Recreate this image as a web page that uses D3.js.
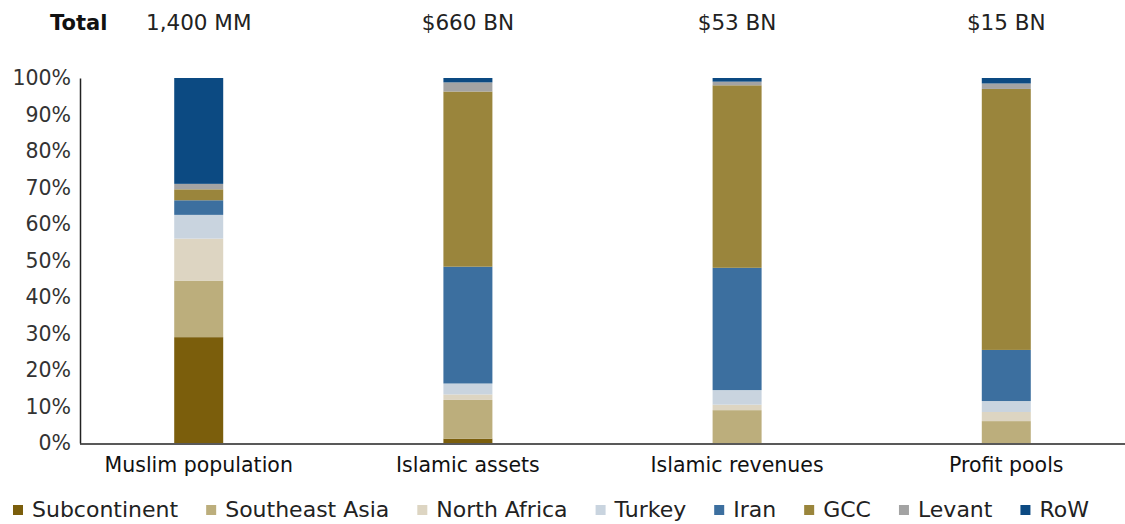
<!DOCTYPE html>
<html>
<head>
<meta charset="utf-8">
<script src="https://cdn.jsdelivr.net/npm/d3@7"></script>
<style>
  body { margin: 0; background: #fff; }
  svg { display: block; font-family: "DejaVu Sans", "Open Sans", sans-serif; }
</style>
</head>
<body>
<svg width="1125" height="524"></svg>
<script>
// categories along the x axis and their totals
const categories = ["Muslim population", "Islamic assets", "Islamic revenues", "Profit pools"];
const totals = ["1,400 MM", "$660 BN", "$53 BN", "$15 BN"];

// regions (stack order, bottom to top)
const regions = ["Subcontinent", "Southeast Asia", "North Africa", "Turkey", "Iran", "GCC", "Levant", "RoW"];
const regionColors = ["#7b5e0c", "#bcae7c", "#ddd5c2", "#c9d4df", "#3c6f9f", "#9a853c", "#a3a3a3", "#0c4a82"];

// shares in % per region, one value per category
const subcontinent  = [29, 1.2, 0, 0];
const southeastAsia = [15.5, 10.6, 9, 6];
const northAfrica   = [11.5, 1.5, 1.5, 2.5];
const turkey        = [6.5, 3, 4, 3];
const iran          = [4, 32, 33.5, 14];
const gcc           = [3, 48, 50, 71.5];
const levant        = [1.5, 2.5, 1, 1.5];
const row           = [29, 1.2, 1, 1.5];

const yTicks = [0, 10, 20, 30, 40, 50, 60, 70, 80, 90, 100];

const series = [subcontinent, southeastAsia, northAfrica, turkey, iran, gcc, levant, row];
const table = categories.map((c, i) => {
	const o = { cat: c };
	regions.forEach((r, j) => { o[r] = series[j][i]; });
	return o;
});

const svg = d3.select("svg");
const mLeft = 80, mRight = 1125, mTop = 78, mBottom = 443;

const x = d3.scaleBand()
	.domain(categories)
	.range([mLeft, mRight])
	.paddingInner(0.818)
	.paddingOuter(0.35);

const y = d3.scaleLinear()
	.domain([0, 100])
	.range([mBottom, mTop]);

const color = d3.scaleOrdinal().domain(regions).range(regionColors);

const stack = d3.stack().keys(regions)(table);

// bars
svg.append("g")
	.selectAll("g")
	.data(stack)
	.enter().append("g")
	.attr("fill", d => color(d.key))
	.selectAll("rect")
	.data(d => d)
	.enter().append("rect")
	.attr("x", d => x(d.data.cat))
	.attr("width", x.bandwidth())
	.attr("y", d => y(d[1]))
	.attr("height", d => y(d[0]) - y(d[1]));

// y axis
const yAxis = svg.append("g")
	.attr("transform", "translate(" + mLeft + ",0)")
	.call(d3.axisLeft(y).tickValues(yTicks).tickFormat(d => d + "%").tickSize(0).tickPadding(9));
yAxis.select(".domain").attr("stroke", "#222").attr("stroke-width", 1.5);
yAxis.selectAll("text")
	.style("font-size", "20.5px")
	.style("font-family", "'DejaVu Sans', sans-serif")
	.attr("fill", "#333");

// x axis
const xAxis = svg.append("g")
	.attr("transform", "translate(0," + (mBottom + 1) + ")")
	.call(d3.axisBottom(x).tickSize(0).tickPadding(13));
xAxis.select(".domain").attr("d", "M" + mLeft + ",0H" + mRight).attr("stroke", "#222").attr("stroke-width", 1.5);
xAxis.selectAll("text")
	.style("font-size", "20.5px")
	.style("font-family", "'DejaVu Sans', sans-serif")
	.attr("fill", "#111");

// totals row
svg.append("text")
	.attr("x", 50)
	.attr("y", 30)
	.style("font-size", "21px")
	.style("font-weight", "bold")
	.attr("fill", "#111")
	.text("Total");

svg.append("g")
	.selectAll("text")
	.data(categories)
	.enter().append("text")
	.attr("x", d => x(d) + x.bandwidth() / 2)
	.attr("y", 30)
	.attr("text-anchor", "middle")
	.style("font-size", "21.5px")
	.attr("fill", "#222")
	.text((d, i) => totals[i]);

// legend
const legend = svg.append("g").attr("transform", "translate(13,517)");
let lx = 0;
regions.forEach((r, i) => {
	const g = legend.append("g").attr("transform", "translate(" + lx + ",0)");
	g.append("rect")
		.attr("x", 0)
		.attr("y", -12)
		.attr("width", 10)
		.attr("height", 10)
		.attr("fill", regionColors[i]);
	const t = g.append("text")
		.attr("x", 19)
		.attr("y", 0)
		.style("font-size", "22px")
		.attr("fill", "#222")
		.text(r);
	lx += 19 + t.node().getComputedTextLength() + 28;
});
</script>
</body>
</html>
